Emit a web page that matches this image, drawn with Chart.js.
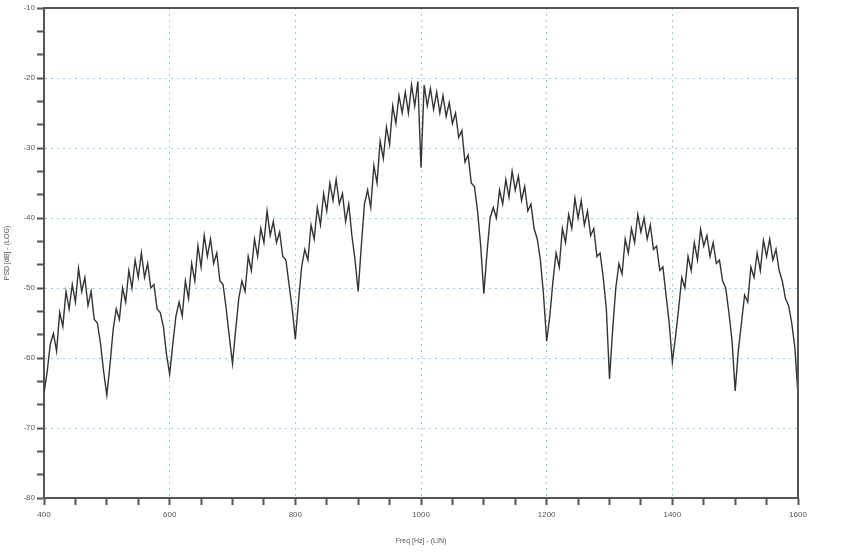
<!DOCTYPE html>
<html>
<head>
<meta charset="utf-8">
<script src="https://cdn.jsdelivr.net/npm/chart.js@4.4.1/dist/chart.umd.min.js"></script>
<style>
  body { margin: 0; background: #fff; }
  canvas { display: block; }
</style>
</head>
<body>
<canvas id="psd" width="853" height="556"></canvas>
<script>
// spectrum sampled every 5 Hz from 400 to 1600 Hz
const freqStart = 400;
const freqStep = 5;
const psdDb = [
  -65,
  // 405 - 500
  -62, -58, -56.5, -59, -53.5, -55.5, -50.5, -53, -49.5, -52, -47.2, -50.5, -48.5, -52.5, -50.5, -54.5, -55, -58, -62, -65.3,
  // 505 - 600
  -61, -56, -53, -54.5, -50, -52, -47.5, -50, -46, -48.5, -45, -48.5, -46.5, -50, -49.5, -53, -53.5, -55.5, -59.5, -62.3,
  // 605 - 700
  -58, -54, -52, -54, -49, -51.5, -46.5, -49, -44, -47, -42.5, -45.5, -43, -46.5, -45, -49, -49.5, -53, -57, -60.8,
  // 705 - 800
  -56, -51.5, -49, -50.5, -45.5, -47.5, -43, -45.5, -41.5, -43.5, -39, -42.5, -40.5, -43.5, -42, -45.5, -46, -49.5, -53, -57.3,
  // 805 - 900
  -52, -47, -44.5, -46, -41, -43, -38.5, -41, -36.5, -39, -35, -37.5, -34.5, -38, -36.5, -40.5, -38, -42.5, -46, -50.5,
  // 905 - 1100 (main lobe)
  -44, -38, -36, -38.5, -32.5, -35, -29, -31.5, -27, -29.5, -24, -26.5, -22.5, -25, -22, -25, -21, -24, -20.5, -32.8,
  -21, -24, -21.5, -24.5, -22, -25, -22.5, -25.5, -23.5, -26.5, -25, -28.5, -27.5, -32, -31, -35, -35.5, -39, -44, -50.8,
  // 1105 - 1200
  -45, -40, -38.5, -40, -36, -38, -34.5, -37, -33.3, -36, -34, -37.5, -35.5, -39, -38, -41.5, -43, -46, -51, -57.6,
  // 1205 - 1300
  -54, -49, -45, -47, -41.5, -43.5, -39.5, -41.5, -37.2, -40, -37.5, -41, -39, -42.5, -41.5, -45.5, -45, -48.5, -53, -63,
  // 1305 - 1400
  -56, -50, -46.5, -48, -43, -45, -41.5, -43.5, -39.5, -42, -40, -43, -41, -44.5, -44, -47.5, -47, -51, -55, -60.6,
  // 1405 - 1500
  -57, -53, -48.5, -50, -45.5, -47.5, -43.5, -46, -41.6, -44, -42.5, -45.5, -43.5, -46.5, -46, -49, -50, -53.5, -57.5, -64.7,
  // 1505 - 1600
  -59, -55, -51, -52, -47, -48.5, -45, -47.5, -43.2, -45.5, -43, -46, -44.5, -47.5, -49, -51.5, -52.5, -55, -58.5, -65.3
];

const xMin = 400, xMax = 1600, xMajor = 200, xMinor = 50;
const yMin = -80, yMax = -10, yMajor = 10, yMinorPerMajor = 3;

const points = psdDb.map((v, i) => ({ x: freqStart + i * freqStep, y: v }));

const xTickValues = [];
for (let f = xMin; f <= xMax; f += xMinor) xTickValues.push(f);
const yTickValues = [];
for (let i = 0; i <= (yMax - yMin) / yMajor * yMinorPerMajor; i++) {
  yTickValues.push(yMin + i * yMajor / yMinorPerMajor);
}

const isMajor = (v, step) => Math.abs(v / step - Math.round(v / step)) < 1e-6;
const axisColor = '#555';
const gridColor = '#86d0ee';
const tickFont = { family: 'Liberation Sans, Arial, sans-serif', size: 8 };

// closes the frame on the top and right side
const framePlugin = {
  id: 'frame',
  afterDraw(chart) {
    const { ctx, chartArea: a } = chart;
    ctx.save();
    ctx.strokeStyle = axisColor;
    ctx.lineWidth = 2;
    ctx.beginPath();
    ctx.moveTo(a.left, a.top);
    ctx.lineTo(a.right, a.top);
    ctx.lineTo(a.right, a.bottom);
    ctx.stroke();
    ctx.restore();
  }
};

new Chart(document.getElementById('psd'), {
  type: 'line',
  data: {
    datasets: [{
      data: points,
      borderColor: '#333',
      borderWidth: 1.4,
      pointRadius: 0,
      tension: 0,
      fill: false
    }]
  },
  options: {
    responsive: false,
    animation: false,
    devicePixelRatio: 1,
    layout: { padding: { top: 8, right: 55, left: 0, bottom: 0 } },
    plugins: { legend: { display: false }, tooltip: { enabled: false } },
    scales: {
      x: {
        type: 'linear',
        min: xMin,
        max: xMax,
        afterBuildTicks: s => { s.ticks = xTickValues.map(v => ({ value: v })); },
        afterFit: s => { s.height = 58; },
        ticks: {
          autoSkip: false,
          maxRotation: 0,
          padding: 5,
          color: '#555',
          font: tickFont,
          callback: v => isMajor(v, xMajor) ? String(v) : ''
        },
        grid: {
          color: c => (isMajor(c.tick.value, xMajor) && c.tick.value !== xMin && c.tick.value !== xMax) ? gridColor : 'rgba(0,0,0,0)',
          lineWidth: 1,
          tickColor: axisColor,
          tickWidth: 2,
          tickLength: 7
        },
        border: { display: true, color: axisColor, width: 2, dash: [2, 4] },
        title: {
          display: true,
          text: 'Freq [Hz] - (LIN)',
          color: '#555',
          font: { family: 'Liberation Sans, Arial, sans-serif', size: 7 },
          padding: { top: 0, bottom: 11 }
        }
      },
      y: {
        type: 'linear',
        min: yMin,
        max: yMax,
        afterBuildTicks: s => { s.ticks = yTickValues.map(v => ({ value: v })); },
        afterFit: s => { s.width = 44; },
        ticks: {
          autoSkip: false,
          padding: 2,
          color: '#555',
          font: tickFont,
          callback: v => isMajor(v, yMajor) ? String(Math.round(v)) : ''
        },
        grid: {
          color: c => (isMajor(c.tick.value, yMajor) && Math.round(c.tick.value) !== yMin && Math.round(c.tick.value) !== yMax) ? gridColor : 'rgba(0,0,0,0)',
          lineWidth: 1,
          tickColor: axisColor,
          tickWidth: 2,
          tickLength: 7
        },
        border: { display: true, color: axisColor, width: 2, dash: [2, 4] },
        title: {
          display: true,
          text: 'PSD [dB] - (LOG)',
          color: '#555',
          font: { family: 'Liberation Sans, Arial, sans-serif', size: 7 },
          padding: { top: 3, bottom: 0 }
        }
      }
    }
  },
  plugins: [framePlugin]
});
</script>
</body>
</html>
